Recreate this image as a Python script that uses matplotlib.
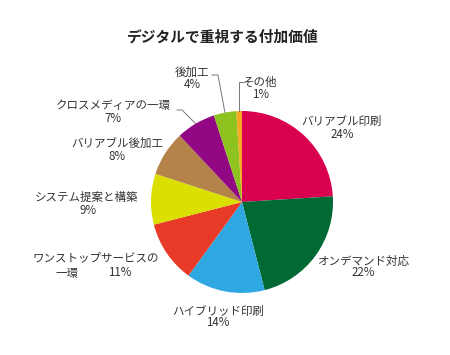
import numpy as np
import matplotlib
matplotlib.use("Agg")
import matplotlib.pyplot as plt

plt.rcParams['font.family'] = ['Noto Sans CJK JP', 'DejaVu Sans']

# data (clockwise from 12 o'clock)
labels = ['バリアブル印刷', 'オンデマンド対応', 'ハイブリッド印刷', 'ワンストップサービスの\n一環',
          'システム提案と構築', 'バリアブル後加工', 'クロスメディアの一環', '後加工', 'その他']
values = [24, 22, 14, 11, 9, 8, 7, 4, 1]
colors = ['#d9004f', '#006934', '#2fa8e1', '#e83b27', '#dbe000',
          '#b5834a', '#920784', '#8dc21f', '#f6a823']

W, H = 450, 355
CX, CY, R = 242, 202, 91


def py(y):
    # pixel y (top-down) -> data y
    return H - y


fig = plt.figure(figsize=(4.5, 3.55), dpi=100)
ax = fig.add_axes([0, 0, 1, 1])

wedges, _ = ax.pie(values, colors=colors, startangle=90, counterclock=False,
                   center=(CX, py(CY)), radius=R, frame=True)
ax.set_xlim(0, W)
ax.set_ylim(0, H)
ax.set_aspect('equal')
ax.axis('off')

fig.text(223 / W, 1 - 37 / H, 'デジタルで重視する付加価値', ha='center', va='center',
         fontsize=10.6, fontweight='bold', color='#222222')

fs = 8.3
tc = '#333333'
# label positions (pixel coords of the name line, percent line)
pos = {
    0: ((342, 122), (342, 134)),
    1: ((363, 261), (363, 273)),
    2: ((218, 311), (218, 323)),
    4: ((87, 197), (88, 210)),
    5: ((117, 143), (117, 157)),
    6: ((113, 106), (113, 119)),
    7: ((192, 72), (192, 85)),
    8: ((260, 82), (261, 95)),
}
for i, ((x1, y1), (x2, y2)) in pos.items():
    ax.text(x1, py(y1), labels[i], ha='center', va='center', fontsize=fs, color=tc)
    ax.text(x2, py(y2), f'{values[i]}%', ha='center', va='center', fontsize=fs, color=tc)

# ワンストップ label is split
ax.text(96, py(258), 'ワンストップサービスの', ha='center', va='center', fontsize=fs, color=tc)
ax.text(67, py(273), '一環', ha='center', va='center', fontsize=fs, color=tc)
ax.text(120, py(273), f'{values[3]}%', ha='center', va='center', fontsize=fs, color=tc)


def edge_point(w):
    th = np.deg2rad((w.theta1 + w.theta2) / 2)
    return w.center[0] + w.r * np.cos(th), w.center[1] + w.r * np.sin(th)


lc = '#777777'
# leader lines: クロスメディアの一環, 後加工, その他
ex, ey = edge_point(wedges[6])
ax.plot([177, 182, ex], [py(110), py(110), ey], color=lc, lw=0.7)
ex, ey = edge_point(wedges[7])
ax.plot([212, 218, ex], [py(75), py(75), ey], color=lc, lw=0.7)
ex, ey = edge_point(wedges[8])
ax.plot([243, ex, ex], [py(82), py(82), ey], color=lc, lw=0.7)

fig.savefig('out.png', dpi=100, facecolor='white')
